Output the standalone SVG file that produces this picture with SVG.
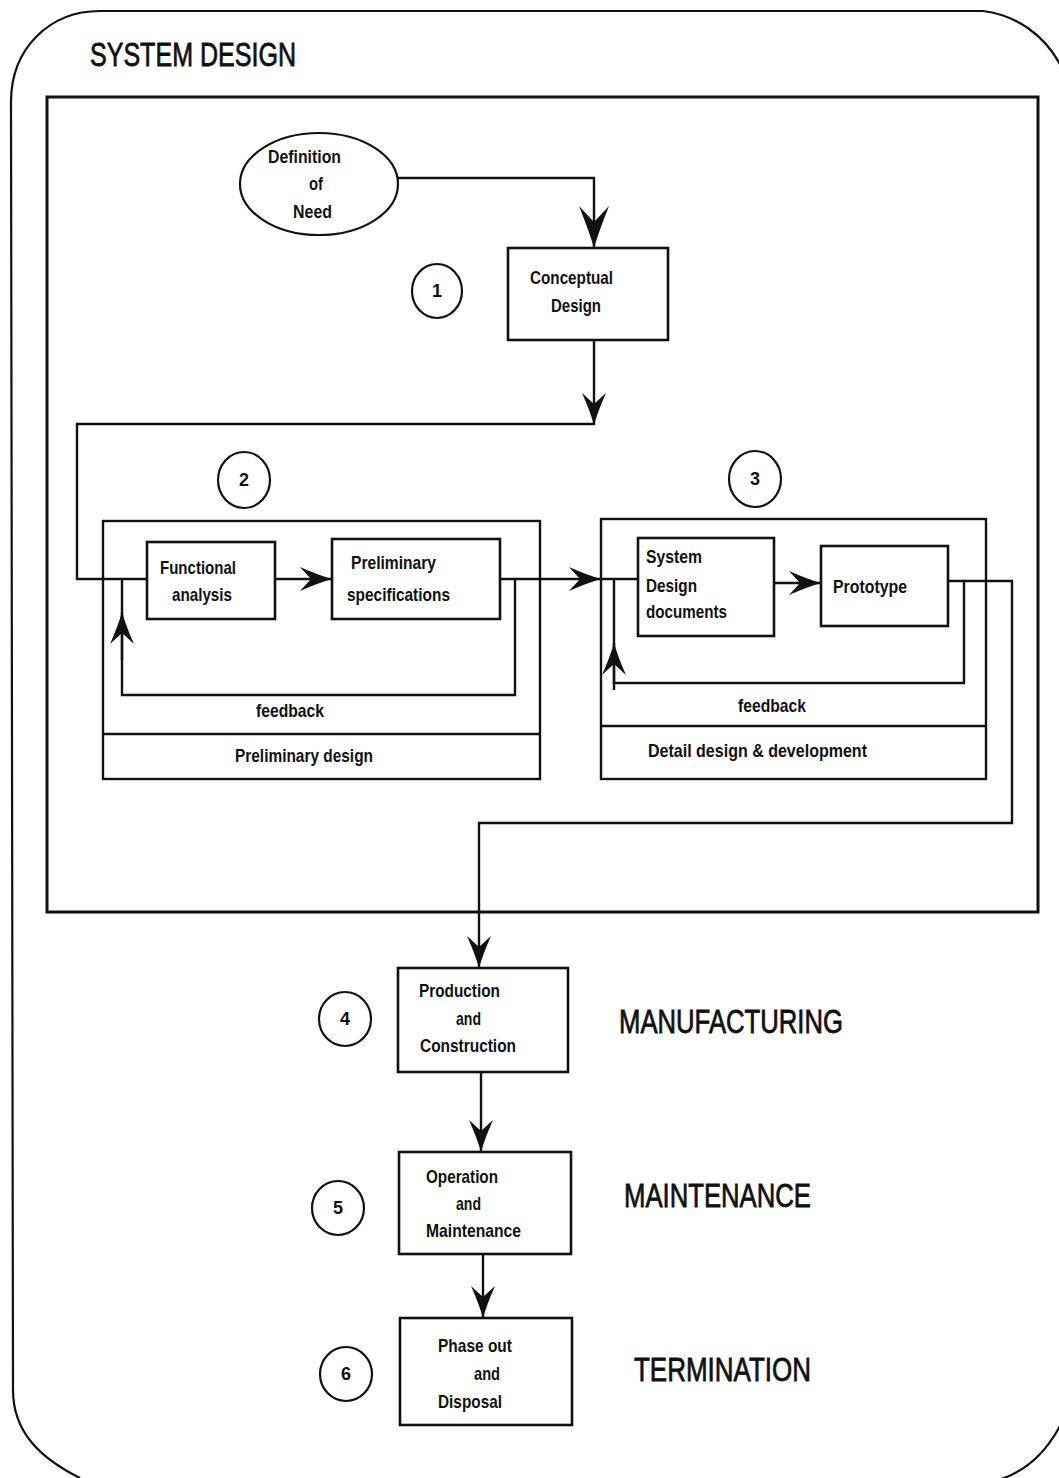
<svg xmlns="http://www.w3.org/2000/svg" width="1059" height="1478" viewBox="0 0 1059 1478">
  <style>
    .frame { fill: none; stroke: #111; stroke-width: 2.2; }
    .box { fill: #fff; stroke: #111; stroke-width: 2.6; }
    .panel { fill: none; stroke: #111; stroke-width: 2.4; }
    .ring { fill: #fff; stroke: #111; stroke-width: 2.2; }
    .wire { fill: none; stroke: #111; stroke-width: 2.4; stroke-linejoin: miter; }
    .lbl { font-family: "Liberation Sans", Arial, sans-serif; font-size: 19px; font-weight: bold; fill: #111; }
    .num { font-family: "Liberation Sans", Arial, sans-serif; font-size: 18px; font-weight: bold; fill: #111; text-anchor: middle; }
    .big { font-family: "Liberation Sans", Arial, sans-serif; font-size: 34px; fill: #111; stroke: #111; stroke-width: 0.8; }
  </style>
  <defs>
    <marker id="arrow" viewBox="-34 -14 36 28" refX="0" refY="0" markerWidth="36" markerHeight="28" markerUnits="userSpaceOnUse" orient="auto">
      <path d="M0,0 Q-14,-4 -32,-12 L-21,0 L-32,12 Q-14,4 0,0 Z" fill="#111"/>
    </marker>
    <marker id="arrow-lg" viewBox="-44 -16 46 32" refX="0" refY="0" markerWidth="46" markerHeight="32" markerUnits="userSpaceOnUse" orient="auto">
      <path d="M0,0 Q-17,-5 -42,-15 L-26,0 L-42,15 Q-17,5 0,0 Z" fill="#111"/>
    </marker>
  </defs>

  <!-- outer rounded frame, partly running off the sheet -->
  <path class="frame" d="M80,1478 C40,1458 13,1432 13,1390 L11,102 C11,48 50,11 100,11 L983,11 C1015,15 1045,34 1062,68"/>
  <path class="frame" d="M1062,1422 C1048,1450 1028,1470 1001,1479"/>

  <!-- system design enclosure -->
  <rect class="frame" x="47" y="97" width="991" height="815" style="stroke-width:3"/>
  <text class="big" x="90" y="66" font-size="32" textLength="206" lengthAdjust="spacingAndGlyphs">SYSTEM DESIGN</text>

  <!-- connectors -->
  <g id="connectors">
    <path class="wire" d="M398,178 H594 V248" marker-end="url(#arrow-lg)"/>
    <path class="wire" d="M594,340 V425" marker-end="url(#arrow)"/>
    <path class="wire" d="M594,424 H77 V579 H147"/>
    <path class="wire" d="M275,579 H332" marker-end="url(#arrow)"/>
    <path class="wire" d="M500,579 H515 V695 H122 V579"/>
    <path class="wire" d="M122,660 V612" marker-end="url(#arrow)"/>
    <path class="wire" d="M515,579 H601" marker-end="url(#arrow)"/>
    <path class="wire" d="M601,579 H638"/>
    <path class="wire" d="M774,583 H821" marker-end="url(#arrow)"/>
    <path class="wire" d="M948,581 H964 V683 H614 V579"/>
    <path class="wire" d="M614,690 V643" marker-end="url(#arrow)"/>
    <path class="wire" d="M964,581 H1012 V823 H479 V968" marker-end="url(#arrow)"/>
    <path class="wire" d="M481,1072 V1152" marker-end="url(#arrow)"/>
    <path class="wire" d="M483,1254 V1318" marker-end="url(#arrow)"/>
  </g>

  <!-- need -->
  <g id="need">
    <ellipse cx="319" cy="184" rx="79" ry="51" class="ring"/>
    <text class="lbl" x="268" y="163" textLength="73" lengthAdjust="spacingAndGlyphs">Definition</text>
    <text class="lbl" x="309" y="190" textLength="14" lengthAdjust="spacingAndGlyphs">of</text>
    <text class="lbl" x="293" y="218" textLength="39" lengthAdjust="spacingAndGlyphs">Need</text>
  </g>

  <!-- stage 1 -->
  <g id="step-1">
    <ellipse cx="437" cy="291" rx="25" ry="27" class="ring"/>
    <text class="num" x="437" y="297">1</text>
  </g>
  <g id="conceptual-design">
    <rect class="box" x="508" y="248" width="160" height="92"/>
    <text class="lbl" x="530" y="284" textLength="83" lengthAdjust="spacingAndGlyphs">Conceptual</text>
    <text class="lbl" x="551" y="312" textLength="50" lengthAdjust="spacingAndGlyphs">Design</text>
  </g>

  <!-- stage 2 -->
  <g id="step-2">
    <ellipse cx="244" cy="480" rx="26" ry="28" class="ring"/>
    <text class="num" x="244" y="486">2</text>
  </g>
  <g id="preliminary-design">
    <rect class="panel" x="103" y="521" width="437" height="258"/>
    <line class="panel" x1="103" y1="734" x2="540" y2="734"/>
    <text class="lbl" x="256" y="717" textLength="68" lengthAdjust="spacingAndGlyphs">feedback</text>
    <text class="lbl" x="235" y="762" textLength="138" lengthAdjust="spacingAndGlyphs">Preliminary design</text>
  </g>
  <g id="functional-analysis">
    <rect class="box" x="147" y="542" width="128" height="77"/>
    <text class="lbl" x="160" y="574" textLength="76" lengthAdjust="spacingAndGlyphs">Functional</text>
    <text class="lbl" x="172" y="601" textLength="60" lengthAdjust="spacingAndGlyphs">analysis</text>
  </g>
  <g id="preliminary-specifications">
    <rect class="box" x="332" y="539" width="168" height="80"/>
    <text class="lbl" x="351" y="569" textLength="85" lengthAdjust="spacingAndGlyphs">Preliminary</text>
    <text class="lbl" x="347" y="601" textLength="103" lengthAdjust="spacingAndGlyphs">specifications</text>
  </g>

  <!-- stage 3 -->
  <g id="step-3">
    <ellipse cx="755" cy="479" rx="26" ry="28" class="ring"/>
    <text class="num" x="755" y="485">3</text>
  </g>
  <g id="detail-design">
    <rect class="panel" x="601" y="519" width="385" height="260"/>
    <line class="panel" x1="601" y1="726" x2="986" y2="726"/>
    <text class="lbl" x="738" y="712" textLength="68" lengthAdjust="spacingAndGlyphs">feedback</text>
    <text class="lbl" x="648" y="757" textLength="219" lengthAdjust="spacingAndGlyphs">Detail design &amp; development</text>
  </g>
  <g id="system-design-documents">
    <rect class="box" x="638" y="538" width="136" height="98"/>
    <text class="lbl" x="646" y="563" textLength="56" lengthAdjust="spacingAndGlyphs">System</text>
    <text class="lbl" x="646" y="592" textLength="51" lengthAdjust="spacingAndGlyphs">Design</text>
    <text class="lbl" x="646" y="618" textLength="81" lengthAdjust="spacingAndGlyphs">documents</text>
  </g>
  <g id="prototype">
    <rect class="box" x="821" y="546" width="127" height="80"/>
    <text class="lbl" x="833" y="593" textLength="74" lengthAdjust="spacingAndGlyphs">Prototype</text>
  </g>

  <!-- stage 4 -->
  <g id="step-4">
    <ellipse cx="345" cy="1019" rx="26" ry="27" class="ring"/>
    <text class="num" x="345" y="1025">4</text>
  </g>
  <g id="production">
    <rect class="box" x="398" y="968" width="170" height="104"/>
    <text class="lbl" x="419" y="997" textLength="81" lengthAdjust="spacingAndGlyphs">Production</text>
    <text class="lbl" x="456" y="1025" textLength="25" lengthAdjust="spacingAndGlyphs">and</text>
    <text class="lbl" x="420" y="1052" textLength="96" lengthAdjust="spacingAndGlyphs">Construction</text>
  </g>
  <text class="big" x="619" y="1033" textLength="224" lengthAdjust="spacingAndGlyphs">MANUFACTURING</text>

  <!-- stage 5 -->
  <g id="step-5">
    <ellipse cx="338" cy="1208" rx="26" ry="27" class="ring"/>
    <text class="num" x="338" y="1214">5</text>
  </g>
  <g id="operation">
    <rect class="box" x="399" y="1152" width="172" height="102"/>
    <text class="lbl" x="426" y="1183" textLength="72" lengthAdjust="spacingAndGlyphs">Operation</text>
    <text class="lbl" x="456" y="1210" textLength="25" lengthAdjust="spacingAndGlyphs">and</text>
    <text class="lbl" x="426" y="1237" textLength="95" lengthAdjust="spacingAndGlyphs">Maintenance</text>
  </g>
  <text class="big" x="624" y="1207" textLength="187" lengthAdjust="spacingAndGlyphs">MAINTENANCE</text>

  <!-- stage 6 -->
  <g id="step-6">
    <ellipse cx="346" cy="1374" rx="26" ry="27" class="ring"/>
    <text class="num" x="346" y="1380">6</text>
  </g>
  <g id="phase-out">
    <rect class="box" x="400" y="1318" width="172" height="107"/>
    <text class="lbl" x="438" y="1352" textLength="74" lengthAdjust="spacingAndGlyphs">Phase out</text>
    <text class="lbl" x="474" y="1380" textLength="26" lengthAdjust="spacingAndGlyphs">and</text>
    <text class="lbl" x="438" y="1408" textLength="64" lengthAdjust="spacingAndGlyphs">Disposal</text>
  </g>
  <text class="big" x="634" y="1381" textLength="177" lengthAdjust="spacingAndGlyphs">TERMINATION</text>
</svg>
